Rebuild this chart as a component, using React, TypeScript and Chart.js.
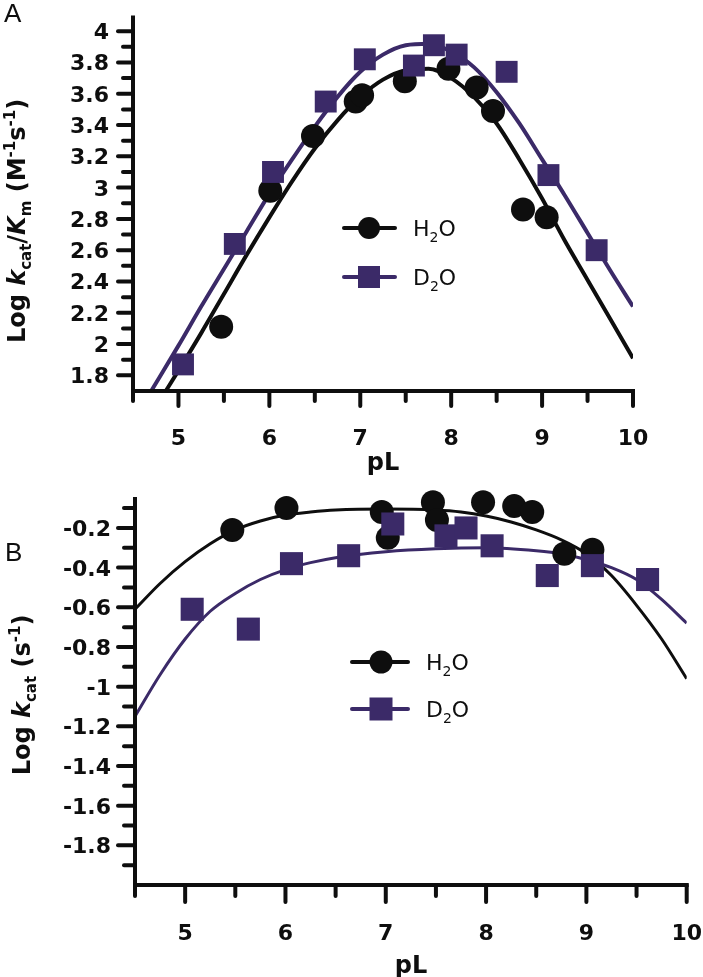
import React, { useEffect, useRef } from 'react';
import { Chart, registerables } from 'chart.js';

Chart.register(...registerables);

// ---------------- Panel A : Log kcat/Km vs pL ----------------
const aH2OpL = [5.47, 6.01, 6.48, 6.95, 7.02, 7.49, 7.97, 8.28, 8.46, 8.79, 9.05];
const aH2OVal = [2.11, 2.98, 3.33, 3.55, 3.59, 3.68, 3.76, 3.64, 3.49, 2.86, 2.81];
const aD2OpL = [5.05, 5.62, 6.04, 6.62, 7.05, 7.59, 7.81, 8.06, 8.61, 9.07, 9.6];
const aD2OVal = [1.87, 2.64, 3.1, 3.55, 3.82, 3.78, 3.91, 3.85, 3.74, 3.08, 2.6];

const aFitH2OpL = [4.85, 5, 5.25, 5.5, 5.75, 6, 6.25, 6.5, 6.75, 7, 7.25, 7.5, 7.75, 8, 8.25, 8.5, 8.75, 9, 9.25, 9.5, 9.75, 10];
const aFitH2OVal = [1.69, 1.83, 2.07, 2.32, 2.57, 2.81, 3.04, 3.25, 3.43, 3.58, 3.69, 3.75, 3.76, 3.7, 3.58, 3.41, 3.18, 2.93, 2.66, 2.41, 2.16, 1.91];
const aFitD2OpL = [4.7, 5, 5.25, 5.5, 5.75, 6, 6.25, 6.5, 6.75, 7, 7.25, 7.5, 7.75, 8, 8.25, 8.5, 8.75, 9, 9.25, 9.5, 9.75, 10];
const aFitD2OVal = [1.7, 1.99, 2.24, 2.48, 2.72, 2.96, 3.18, 3.39, 3.58, 3.74, 3.85, 3.91, 3.92, 3.87, 3.77, 3.61, 3.41, 3.18, 2.95, 2.71, 2.47, 2.24];

const aYTickLabels = ['1.8', '2', '2.2', '2.4', '2.6', '2.8', '3', '3.2', '3.4', '3.6', '3.8', '4'];
const aYMinorTicks = [1.9, 2.1, 2.3, 2.5, 2.7, 2.9, 3.1, 3.3, 3.5, 3.7, 3.9];

// ---------------- Panel B : Log kcat vs pL ----------------
const bH2OpL = [5.47, 6.01, 6.96, 7.02, 7.47, 7.51, 7.97, 8.28, 8.46, 8.78, 9.06];
const bH2OVal = [-0.21, -0.1, -0.12, -0.25, -0.07, -0.16, -0.07, -0.09, -0.12, -0.33, -0.31];
const bD2OpL = [5.07, 5.63, 6.06, 6.63, 7.07, 7.6, 7.8, 8.06, 8.61, 9.06, 9.61];
const bD2OVal = [-0.61, -0.71, -0.38, -0.34, -0.18, -0.24, -0.2, -0.29, -0.44, -0.39, -0.46];

const bFitH2OpL = [4.5, 4.75, 5, 5.25, 5.5, 5.75, 6, 6.25, 6.5, 7, 7.5, 7.75, 8, 8.25, 8.5, 8.75, 9, 9.25, 9.5, 9.75, 10];
const bFitH2OVal = [-0.61, -0.48, -0.37, -0.28, -0.21, -0.165, -0.135, -0.12, -0.11, -0.105, -0.11, -0.12, -0.14, -0.17, -0.21, -0.26, -0.33, -0.44, -0.59, -0.76, -0.96];
const bFitD2OpL = [4.5, 4.75, 5, 5.25, 5.5, 5.75, 6, 6.25, 6.5, 7, 7.5, 8, 8.5, 8.75, 9, 9.25, 9.5, 9.75, 10];
const bFitD2OVal = [-1.15, -0.94, -0.76, -0.62, -0.53, -0.46, -0.41, -0.375, -0.35, -0.32, -0.305, -0.3, -0.315, -0.33, -0.36, -0.4, -0.46, -0.56, -0.68];

const bYTickLabels = ['-0.2', '-0.4', '-0.6', '-0.8', '-1', '-1.2', '-1.4', '-1.6', '-1.8'];
const bYMinorTicks = [-0.1, -0.3, -0.5, -0.7, -0.9, -1.1, -1.3, -1.5, -1.7, -1.9];

// ---------------- shared x axis ----------------
const xTickLabels = ['5', '6', '7', '8', '9', '10'];
const xMinorTicks = [4.5, 5.5, 6.5, 7.5, 8.5, 9.5];
const seriesNames = ['H2O', 'D2O'];

const BLACK = '#0e0e0e';
const PURPLE = '#3b2a68';
const BOLD = '"DejaVu Sans", "Liberation Sans", Arial, sans-serif';
const PLAIN = '"Liberation Sans", Arial, sans-serif';

type Seg = { t: string; size: number; bold?: boolean; italic?: boolean; dy?: number };

function drawRich(ctx: CanvasRenderingContext2D, segs: Seg[], x: number, y: number, center: boolean, rot = 0) {
  ctx.save();
  ctx.translate(x, y);
  ctx.rotate(rot);
  const f = (s: Seg) => `${s.italic ? 'italic ' : ''}${s.bold ? 'bold ' : ''}${s.size}px ${BOLD}`;
  let total = 0;
  for (const s of segs) {
    ctx.font = f(s);
    total += ctx.measureText(s.t).width;
  }
  let cx = center ? -total / 2 : 0;
  ctx.textAlign = 'left';
  ctx.textBaseline = 'alphabetic';
  for (const s of segs) {
    ctx.font = f(s);
    ctx.fillText(s.t, cx, s.dy || 0);
    cx += ctx.measureText(s.t).width;
  }
  ctx.restore();
}

function subName(name: string): Seg[] {
  return [
    { t: name[0], size: 22 },
    { t: name[1], size: 14, dy: 6 },
    { t: name.slice(2), size: 22 },
  ];
}

type PanelCfg = {
  letter: string;
  letterPos: [number, number];
  yLabels: string[];
  yMinor: number[];
  yLabelRight: number;
  major: number;
  minor: number;
  xLabelBase: number;
  xTitlePos: [number, number];
  yTitle: Seg[];
  yTitlePos: [number, number];
  legend: { x1: number; x2: number; mx: number; tx: number; ys: number[]; r: number; side: number };
};

function axesPlugin(cfg: PanelCfg) {
  return {
    id: 'axes' + cfg.letter,
    afterDraw(chart: any) {
      const ctx: CanvasRenderingContext2D = chart.ctx;
      const xs = chart.scales.x;
      const ys = chart.scales.y;
      const { left, right, top, bottom } = chart.chartArea;
      ctx.save();
      ctx.strokeStyle = BLACK;
      ctx.fillStyle = BLACK;
      ctx.lineWidth = 4;
      ctx.lineCap = 'butt';
      ctx.beginPath();
      ctx.moveTo(left, top);
      ctx.lineTo(left, bottom + 2);
      ctx.stroke();
      ctx.beginPath();
      ctx.moveTo(left - 2, bottom);
      ctx.lineTo(right + 2, bottom);
      ctx.stroke();
      ctx.lineCap = 'round';
      const yMaj = cfg.yLabels.map((s) => parseFloat(s));
      const tick = (x1: number, y1: number, x2: number, y2: number) => {
        ctx.beginPath();
        ctx.moveTo(x1, y1);
        ctx.lineTo(x2, y2);
        ctx.stroke();
      };
      for (const v of yMaj) {
        const p = ys.getPixelForValue(v);
        tick(left, p, left - cfg.major + 2, p);
      }
      for (const v of cfg.yMinor) {
        const p = ys.getPixelForValue(v);
        tick(left, p, left - cfg.minor + 2, p);
      }
      for (const s of xTickLabels) {
        const p = xs.getPixelForValue(parseFloat(s));
        tick(p, bottom, p, bottom + cfg.major - 2);
      }
      for (const v of xMinorTicks) {
        const p = xs.getPixelForValue(v);
        tick(p, bottom, p, bottom + cfg.minor - 2);
      }
      // tick labels
      ctx.font = `bold 22px ${BOLD}`;
      ctx.textBaseline = 'alphabetic';
      ctx.textAlign = 'right';
      cfg.yLabels.forEach((s, i) => {
        const p = ys.getPixelForValue(yMaj[i]);
        ctx.fillText(s, cfg.yLabelRight, p + 8);
      });
      ctx.textAlign = 'center';
      for (const s of xTickLabels) {
        const p = xs.getPixelForValue(parseFloat(s));
        ctx.fillText(s, p, cfg.xLabelBase);
      }
      // axis titles
      ctx.font = `bold 24px ${BOLD}`;
      ctx.fillText('pL', cfg.xTitlePos[0], cfg.xTitlePos[1]);
      drawRich(ctx, cfg.yTitle, cfg.yTitlePos[0], cfg.yTitlePos[1], true, -Math.PI / 2);
      // panel letter
      ctx.font = `26px ${PLAIN}`;
      ctx.textAlign = 'left';
      ctx.fillText(cfg.letter, cfg.letterPos[0], cfg.letterPos[1]);
      // legend
      const L = cfg.legend;
      seriesNames.forEach((name, i) => {
        const col = i === 0 ? BLACK : PURPLE;
        const y = L.ys[i];
        ctx.strokeStyle = col;
        ctx.fillStyle = col;
        ctx.lineWidth = 4;
        ctx.lineCap = 'round';
        tick(L.x1 + 2, y, L.x2 - 2, y);
        if (i === 0) {
          ctx.beginPath();
          ctx.arc(L.mx, y, L.r, 0, Math.PI * 2);
          ctx.fill();
        } else {
          ctx.fillRect(L.mx - L.side / 2, y - L.side / 2, L.side, L.side);
        }
        ctx.fillStyle = BLACK;
        drawRich(ctx, subName(name), L.tx, y + 8, false);
      });
      ctx.restore();
    },
  };
}

const pts = (xs: number[], ys: number[]) => xs.map((x, i) => ({ x, y: ys[i] }));

function makeConfig(
  d: { h: [number[], number[]]; dd: [number[], number[]]; fh: [number[], number[]]; fd: [number[], number[]] },
  yMin: number,
  yMax: number,
  box: { left: number; right: number; top: number; bottom: number; w: number; h: number },
  style: { r: number; sq: number; lw: number },
  cfg: PanelCfg
): any {
  const zero = (s: any) => {
    s.paddingLeft = 0;
    s.paddingRight = 0;
    s.paddingTop = 0;
    s.paddingBottom = 0;
  };
  return {
    type: 'scatter',
    data: {
      datasets: [
        { type: 'scatter', label: 'D2O', data: pts(d.dd[0], d.dd[1]), pointStyle: 'rect', pointRadius: style.sq, backgroundColor: PURPLE, borderWidth: 0, order: 0, clip: false },
        { type: 'scatter', label: 'H2O', data: pts(d.h[0], d.h[1]), pointStyle: 'circle', pointRadius: style.r, backgroundColor: BLACK, borderWidth: 0, order: 1, clip: false },
        { type: 'line', label: 'D2O fit', data: pts(d.fd[0], d.fd[1]), borderColor: PURPLE, borderWidth: style.lw, pointRadius: 0, cubicInterpolationMode: 'monotone', fill: false, order: 2 },
        { type: 'line', label: 'H2O fit', data: pts(d.fh[0], d.fh[1]), borderColor: BLACK, borderWidth: style.lw, pointRadius: 0, cubicInterpolationMode: 'monotone', fill: false, order: 3 },
      ],
    },
    options: {
      responsive: false,
      animation: false,
      events: [],
      layout: { padding: { left: 0, top: box.top, right: box.w - box.right, bottom: box.h - box.bottom - 60 } },
      plugins: { legend: { display: false }, tooltip: { enabled: false } },
      scales: {
        x: {
          type: 'linear',
          min: 4.5,
          max: 10,
          ticks: { display: false },
          grid: { display: false },
          border: { display: false },
          afterFit: (s: any) => {
            s.height = 60;
            zero(s);
          },
        },
        y: {
          type: 'linear',
          min: yMin,
          max: yMax,
          ticks: { display: false },
          grid: { display: false },
          border: { display: false },
          afterFit: (s: any) => {
            s.width = box.left;
            zero(s);
          },
        },
      },
    },
    plugins: [axesPlugin(cfg)],
  };
}

const titleA: Seg[] = [
  { t: 'Log ', size: 24, bold: true },
  { t: 'k', size: 24, bold: true, italic: true },
  { t: 'cat', size: 15, bold: true, dy: 6 },
  { t: '/', size: 24, bold: true },
  { t: 'K', size: 24, bold: true, italic: true },
  { t: 'm', size: 15, bold: true, dy: 6 },
  { t: ' (M', size: 24, bold: true },
  { t: '-1', size: 15, bold: true, dy: -10 },
  { t: 's', size: 24, bold: true },
  { t: '-1', size: 15, bold: true, dy: -10 },
  { t: ')', size: 24, bold: true },
];
const titleB: Seg[] = [
  { t: 'Log ', size: 24, bold: true },
  { t: 'k', size: 24, bold: true, italic: true },
  { t: 'cat', size: 15, bold: true, dy: 6 },
  { t: ' (s', size: 24, bold: true },
  { t: '-1', size: 15, bold: true, dy: -10 },
  { t: ')', size: 24, bold: true },
];

export default function App() {
  const refA = useRef<HTMLCanvasElement>(null);
  const refB = useRef<HTMLCanvasElement>(null);

  useEffect(() => {
    const chartA = new Chart(
      refA.current as HTMLCanvasElement,
      makeConfig(
        { h: [aH2OpL, aH2OVal], dd: [aD2OpL, aD2OVal], fh: [aFitH2OpL, aFitH2OVal], fd: [aFitD2OpL, aFitD2OVal] },
        1.7,
        4.1,
        { left: 133, right: 633, top: 2, bottom: 391, w: 703, h: 480 },
        { r: 12, sq: 15.5, lw: 4 },
        {
          letter: 'A',
          letterPos: [4, 22],
          yLabels: aYTickLabels,
          yMinor: aYMinorTicks,
          yLabelRight: 109,
          major: 17,
          minor: 12,
          xLabelBase: 445,
          xTitlePos: [383, 470],
          yTitle: titleA,
          yTitlePos: [25, 221],
          legend: { x1: 342, x2: 397, mx: 369, tx: 413, ys: [228, 277], r: 11, side: 22 },
        }
      )
    );
    const chartB = new Chart(
      refB.current as HTMLCanvasElement,
      makeConfig(
        { h: [bH2OpL, bH2OVal], dd: [bD2OpL, bD2OVal], fh: [bFitH2OpL, bFitH2OVal], fd: [bFitD2OpL, bFitD2OVal] },
        -2.0,
        -0.044,
        { left: 135, right: 688, top: 17, bottom: 405, w: 703, h: 497 },
        { r: 12, sq: 16.3, lw: 3 },
        {
          letter: 'B',
          letterPos: [5, 81],
          yLabels: bYTickLabels,
          yMinor: bYMinorTicks,
          yLabelRight: 111,
          major: 19,
          minor: 13,
          xLabelBase: 460,
          xTitlePos: [411, 493],
          yTitle: titleB,
          yTitlePos: [30, 215],
          legend: { x1: 350, x2: 410, mx: 381, tx: 426, ys: [182, 229], r: 11.5, side: 23 },
        }
      )
    );
    return () => {
      chartA.destroy();
      chartB.destroy();
    };
  }, []);

  return (
    <div style={{ position: 'absolute', left: 0, top: 0, width: 703, height: 977, background: '#ffffff' }}>
      <canvas ref={refA} width={703} height={480} style={{ position: 'absolute', left: 0, top: 0, width: 703, height: 480 }} />
      <canvas ref={refB} width={703} height={497} style={{ position: 'absolute', left: 0, top: 480, width: 703, height: 497 }} />
    </div>
  );
}
